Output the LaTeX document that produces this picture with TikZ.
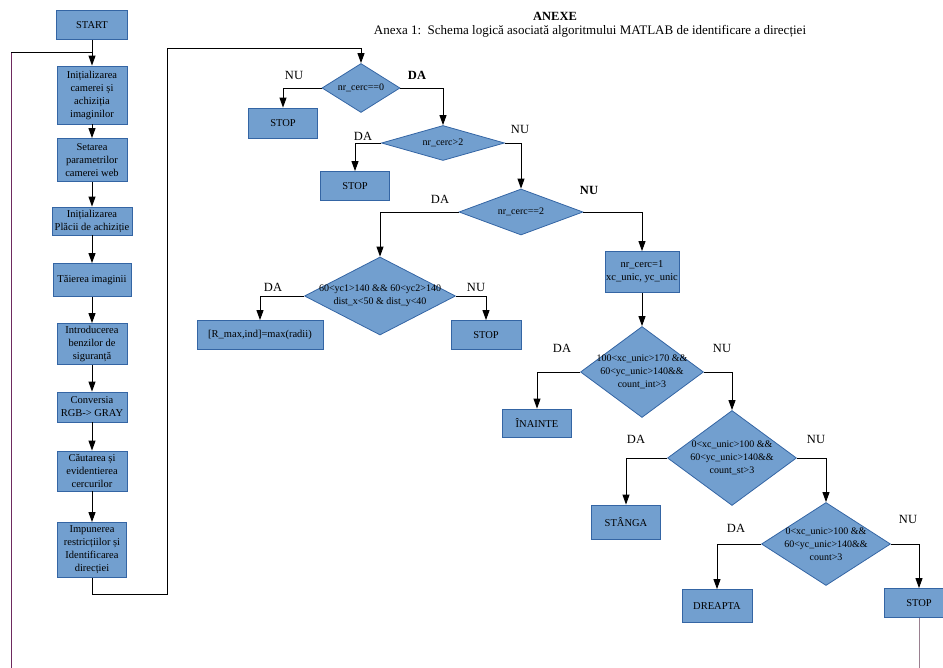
\documentclass[tikz,border=0pt]{standalone}
\usepackage{fontspec}
\setmainfont{Liberation Serif}
\usetikzlibrary{shapes.geometric, arrows.meta}
\definecolor{boxfill}{HTML}{729FCF}
\definecolor{boxline}{HTML}{3465A4}
\definecolor{backleft}{HTML}{6E2A5E}
\definecolor{backright}{HTML}{9A8090}

\begin{document}
\begin{tikzpicture}[x=1pt, y=-1pt,
        box/.style={draw=boxline, fill=boxfill, line width=0.8pt, inner sep=1pt, align=center,
            font=\fontsize{10.5}{13}\selectfont},
        dec/.style={diamond, draw=boxline, fill=boxfill, line width=0.8pt, inner sep=0pt},
        dectext/.style={align=center, inner sep=0pt, font=\fontsize{10}{12.8}\selectfont},
        lbl/.style={font=\fontsize{12.5}{14}\selectfont},
        lblb/.style={font=\bfseries\fontsize{12.5}{14}\selectfont},
        arr/.style={-{Triangle[length=10pt, width=7pt]}, line width=0.9pt}]
        \useasboundingbox (0,0) rectangle (943,668);

        \node[font=\bfseries\fontsize{12.5}{14}\selectfont] (anexe) at (555,16) {ANEXE};
        \node[font=\fontsize{13}{15}\selectfont] (titlu) at (590,31)
            {Anexa 1:\ \ Schema logică asociată algoritmului MATLAB de identificare a direcției};

        \node[box, minimum width=71, minimum height=29] (start) at (92,25) {START};
        \node[box, minimum width=70, minimum height=58] (init) at (92,95) {Inițializarea\\camerei și\\achiziția\\imaginilor};
        \node[box, minimum width=70, minimum height=43] (setare) at (92,160) {Setarea\\parametrilor\\camerei web};
        \node[box, minimum width=80, minimum height=28] (placa) at (92,221) {Inițializarea\\Plăcii de achiziție};
        \node[box, minimum width=78, minimum height=33] (taiere) at (92,280) {Tăierea imaginii};
        \node[box, minimum width=70, minimum height=41] (benzi) at (92,344) {Introducerea\\benzilor de\\siguranță};
        \node[box, minimum width=70, minimum height=30] (conv) at (92,407) {Conversia\\RGB-> GRAY};
        \node[box, minimum width=70, minimum height=40] (cautare) at (92,471) {Căutarea și\\evidentierea\\cercurilor};
        \node[box, minimum width=69, minimum height=55] (impun) at (92,550) {Impunerea\\restricțiilor și\\Identificarea\\direcției};

        \node[dec, minimum width=78, minimum height=49, label={[dectext]center:nr\_cerc==0}] (d1) at (361,88) {};
        \node[box, minimum width=69, minimum height=30] (stop1) at (283,123) {STOP};
        \node[dec, minimum width=123, minimum height=35, label={[dectext]center:nr\_cerc>2}] (d2) at (443,143) {};
        \node[box, minimum width=69, minimum height=29] (stop2) at (355,186) {STOP};
        \node[dec, minimum width=124, minimum height=46, label={[dectext]center:nr\_cerc==2}] (d3) at (521,212) {};
        \node[dec, minimum width=151, minimum height=78,
            label={[dectext]center:60<yc1>140 \&\& 60<yc2>140\\dist\_x<50 \& dist\_y<40}] (d4) at (380,296) {};
        \node[box, minimum width=126, minimum height=29] (rmax) at (260,335) {[R\_max,ind]=max(radii)};
        \node[box, minimum width=70, minimum height=29] (stop3) at (486,335) {STOP};
        \node[box, minimum width=74, minimum height=41] (cerc1) at (642,272) {nr\_cerc=1\\xc\_unic, yc\_unic};
        \node[dec, minimum width=123, minimum height=91,
            label={[dectext]center:100<xc\_unic>170 \&\&\\60<yc\_unic>140\&\&\\count\_int>3}] (d5) at (642,372) {};
        \node[box, minimum width=69, minimum height=28] (inainte) at (537,423) {ÎNAINTE};
        \node[dec, minimum width=129, minimum height=95,
            label={[dectext]center:0<xc\_unic>100 \&\&\\60<yc\_unic>140\&\&\\count\_st>3}] (d6) at (732,458) {};
        \node[box, minimum width=69, minimum height=34] (stanga) at (626,522) {STÂNGA};
        \node[dec, minimum width=129, minimum height=83,
            label={[dectext]center:0<xc\_unic>100 \&\&\\60<yc\_unic>140\&\&\\count>3}] (d7) at (826,544) {};
        \node[box, minimum width=70, minimum height=33] (dreapta) at (717,606) {DREAPTA};
        \node[box, minimum width=70, minimum height=29] (stop4) at (919,603) {STOP};

        \node[lbl] (nu1) at (294,75) {NU};
        \node[lblb] (da1) at (417,75) {DA};
        \node[lbl] (da2) at (363,136) {DA};
        \node[lbl] (nu2) at (520,129) {NU};
        \node[lbl] (da3) at (440,199) {DA};
        \node[lblb] (nu3) at (589,190) {NU};
        \node[lbl] (da4) at (273,287) {DA};
        \node[lbl] (nu4) at (476,287) {NU};
        \node[lbl] (da5) at (562,348) {DA};
        \node[lbl] (nu5) at (722,348) {NU};
        \node[lbl] (da6) at (636,439) {DA};
        \node[lbl] (nu6) at (816,439) {NU};
        \node[lbl] (da7) at (736,528) {DA};
        \node[lbl] (nu7) at (908,519) {NU};

        \coordinate (loopA) at (167,594);
        \coordinate (loopB) at (167,48);
        \coordinate (backA) at (11,690);
        \coordinate (backB) at (11,52);
        \coordinate (backC) at (92,52);

        \draw[arr] (start) -- (init);
        \draw[arr] (init) -- (setare);
        \draw[arr] (setare) -- (placa);
        \draw[arr] (placa) -- (taiere);
        \draw[arr] (taiere) -- (benzi);
        \draw[arr] (benzi) -- (conv);
        \draw[arr] (conv) -- (cautare);
        \draw[arr] (cautare) -- (impun);
        \draw[arr] (impun.south) |- (loopA) -- (loopB) -| (d1.north);

        \draw[line width=0.9pt, backright] (stop4.south) |- (backA);
        \draw[line width=0.9pt, backleft] (backA) -- (backB);
        \draw[line width=0.9pt] (backB) -- (backC);

        \draw[arr] (d1.west) -| (stop1.north);
        \draw[arr] (d1.east) -| (d2.north);
        \draw[arr] (d2.west) -| (stop2.north);
        \draw[arr] (d2.east) -| (d3.north);
        \draw[arr] (d3.west) -| (d4.north);
        \draw[arr] (d3.east) -| (cerc1.north);
        \draw[arr] (d4.west) -| (rmax.north);
        \draw[arr] (d4.east) -| (stop3.north);
        \draw[arr] (cerc1) -- (d5);
        \draw[arr] (d5.west) -| (inainte.north);
        \draw[arr] (d5.east) -| (d6.north);
        \draw[arr] (d6.west) -| (stanga.north);
        \draw[arr] (d6.east) -| (d7.north);
        \draw[arr] (d7.west) -| (dreapta.north);
        \draw[arr] (d7.east) -| (stop4.north);
    \end{tikzpicture}
\end{document}
